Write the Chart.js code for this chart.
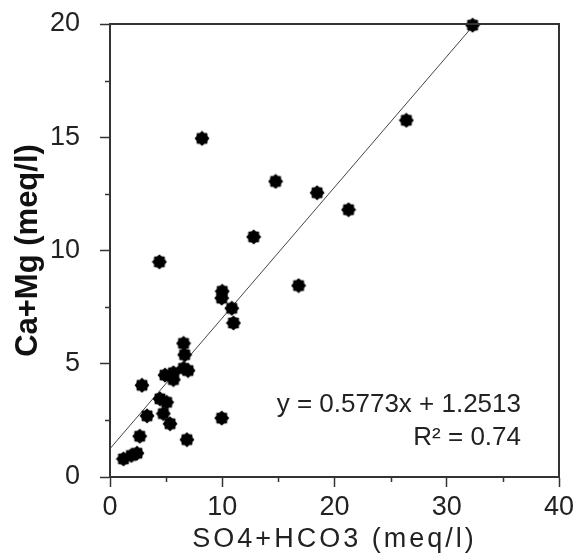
<!DOCTYPE html>
<html>
<head>
<meta charset="utf-8">
<script src="https://cdn.jsdelivr.net/npm/chart.js@4.4.1/dist/chart.umd.min.js"></script>
<style>
	html, body { margin: 0; padding: 0; background: #fff; }
	canvas { display: block; }
</style>
</head>
<body>
<canvas id="chart" width="579" height="560"></canvas>
<script>
// Scatter values
const so4hco3 = [32.3, 26.4, 8.2, 14.75, 18.45, 21.25, 12.8, 16.8, 4.4, 10.0,
	9.95, 10.85, 11.0, 6.55, 6.65, 6.55, 6.95, 5.65, 5.65, 4.9,
	2.85, 4.45, 5.05, 3.3, 4.75, 5.35, 9.95, 2.65, 6.85, 1.2,
	1.9, 2.4];
const caMg = [19.95, 15.75, 14.95, 13.05, 12.55, 11.8, 10.6, 8.45, 9.5, 8.2,
	7.9, 7.45, 6.8, 5.9, 5.4, 4.8, 4.7, 4.6, 4.3, 4.5,
	4.05, 3.45, 3.3, 2.7, 2.8, 2.35, 2.6, 1.8, 1.65, 0.8,
	0.95, 1.05];

// Trend line ends (y = 0.5773x + 1.2513)
const trendX = [0, 32.4];
const trendY = [1.25, 19.95];
const equationLines = ['y = 0.5773x + 1.2513', 'R² = 0.74'];

const xTicks = [0, 10, 20, 30, 40];
const yTicks = [0, 5, 10, 15, 20];
const xMinorTicks = [5, 15, 25, 35];
const yMinorTicks = [2.5, 7.5, 12.5, 17.5];

const textColor = '#222';
const lineColor = '#333';

// Filled star marker like the original
function makeMarker() {
	const c = document.createElement('canvas');
	c.width = 16; c.height = 16;
	const g = c.getContext('2d');
	g.fillStyle = '#000';
	g.beginPath();
	for (let i = 0; i < 16; i++) {
		const r = i % 2 === 0 ? 7.5 : 6;
		const a = Math.PI * i / 8;
		const px = 8 + r * Math.cos(a), py = 8 + r * Math.sin(a);
		if (i === 0) g.moveTo(px, py); else g.lineTo(px, py);
	}
	g.closePath();
	g.fill();
	return c;
}

// frame, minor ticks and equation text
const framePlugin = {
	id: 'frame',
	afterDraw(chart) {
		const {ctx, chartArea: a, scales} = chart;
		ctx.save();
		ctx.strokeStyle = lineColor;
		ctx.lineWidth = 2;
		ctx.beginPath();
		ctx.moveTo(a.left, a.top); ctx.lineTo(a.right, a.top); ctx.lineTo(a.right, a.bottom);
		ctx.stroke();

		ctx.lineWidth = 1.5;
		ctx.beginPath();
		xMinorTicks.forEach(v => {
			const px = Math.round(scales.x.getPixelForValue(v)) + 0.5;
			ctx.moveTo(px, a.bottom); ctx.lineTo(px, a.bottom + 5);
		});
		yMinorTicks.forEach(v => {
			const py = Math.round(scales.y.getPixelForValue(v)) + 0.5;
			ctx.moveTo(a.left, py); ctx.lineTo(a.left - 5, py);
		});
		ctx.stroke();

		ctx.fillStyle = textColor;
		ctx.font = '26px "Liberation Sans", Arial, sans-serif';
		ctx.textAlign = 'right';
		ctx.textBaseline = 'alphabetic';
		ctx.fillText(equationLines[0], a.right - 38, a.bottom - 65);
		ctx.fillText(equationLines[1], a.right - 38, a.bottom - 32);
		ctx.restore();
	}
};

// wider letter spacing for the x axis title
const spacedTitle = {
	id: 'spacedTitle',
	afterUpdate(chart) {
		const s = chart.scales.x;
		if (!s || s._spaced) return;
		const orig = s.drawTitle.bind(s);
		s.drawTitle = function (area) {
			chart.ctx.letterSpacing = '3px';
			orig(area);
			chart.ctx.letterSpacing = '0px';
		};
		s._spaced = true;
	}
};

const tickFont = {family: '"Liberation Sans", Arial, sans-serif', size: 27};

new Chart(document.getElementById('chart'), {
	type: 'scatter',
	data: {
		datasets: [{
			data: so4hco3.map((x, i) => ({x: x, y: caMg[i]})),
			pointStyle: makeMarker(),
			pointRadius: 8,
			clip: false,
			order: 1
		}, {
			type: 'line',
			data: trendX.map((x, i) => ({x: x, y: trendY[i]})),
			borderColor: '#444',
			borderWidth: 1,
			pointRadius: 0,
			fill: false,
			order: 2
		}]
	},
	options: {
		responsive: false,
		animation: false,
		events: [],
		layout: {autoPadding: false, padding: {top: 0, right: 20, bottom: 0, left: 0}},
		plugins: {legend: {display: false}, tooltip: {enabled: false}},
		scales: {
			x: {
				type: 'linear', min: 0, max: 40,
				afterFit: s => { s.height = 83; },
				afterBuildTicks: s => { s.ticks = xTicks.map(v => ({value: v})); },
				grid: {drawOnChartArea: false, tickLength: 10, tickWidth: 1.5, tickColor: lineColor},
				border: {color: lineColor, width: 2},
				ticks: {color: textColor, font: tickFont, padding: 4, maxRotation: 0},
				title: {
					display: true, text: 'SO4+HCO3 (meq/l)', color: textColor,
					font: {family: '"Liberation Sans", Arial, sans-serif', size: 27},
					padding: {top: 0, bottom: 4}
				}
			},
			y: {
				type: 'linear', min: 0, max: 20,
				afterFit: s => { s.width = 110; s.paddingTop = 24; },
				afterBuildTicks: s => { s.ticks = yTicks.map(v => ({value: v})); },
				grid: {drawOnChartArea: false, tickLength: 10, tickWidth: 1.5, tickColor: lineColor},
				border: {color: lineColor, width: 2},
				ticks: {color: textColor, font: tickFont, padding: 20},
				title: {
					display: true, text: 'Ca+Mg (meq/l)', color: '#111',
					font: {family: '"Liberation Sans", Arial, sans-serif', size: 31, weight: 'bold'},
					padding: {top: 10, bottom: 0}
				}
			}
		}
	},
	plugins: [framePlugin, spacedTitle]
});
</script>
</body>
</html>
